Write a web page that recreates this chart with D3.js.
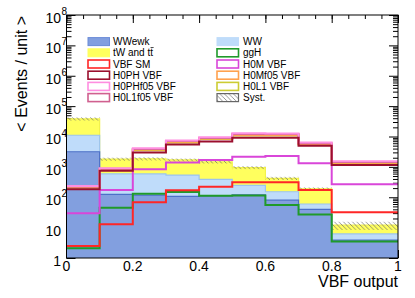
<!DOCTYPE html>
<html>
<head>
<meta charset="utf-8">
<script src="https://cdn.jsdelivr.net/npm/d3@7"></script>
<style>
  body { margin: 0; background: #fff; }
  svg { display: block; }
  text { font-family: "Liberation Sans", Arial, Helvetica, sans-serif; fill: #000; }
</style>
</head>
<body>
<div id="chart"></div>
<script>
// bin edges of the VBF output histogram
const edges = [0, 0.1, 0.2, 0.3, 0.4, 0.5, 0.6, 0.7, 0.8, 1.0];

// stacked backgrounds (per bin)
const wwewk = [3150, 125, 118, 107, 110, 120, 80, 40, 3.9];
const ww    = [7850, 465, 470, 430, 280, 125, 72, 20, 2.3];
const toptt = [27000, 1210, 1260, 1160, 1060, 705, 268, 130, 5.8];
const syst  = [0.12, 0.12, 0.12, 0.11, 0.11, 0.11, 0.12, 0.11, 0.3];

// signal / other histograms drawn as lines
const vbfSM   = [2.5, 13, 68, 170, 220, 310, 310, 174, 32];
const ggH     = [2.1, 45, 130, 148, 112, 115, 56, 27, 3.5];
const h0m     = [30, 174, 830, 1400, 1700, 2150, 2300, 1310, 268];
const h0l1    = [205, 810, 3500, 6400, 8200, 10800, 10800, 5500, 1320];
const h0mf05  = [215, 840, 3700, 6700, 8600, 11300, 11300, 5700, 1380];
const h0l1f05 = [225, 870, 3900, 7100, 9000, 12000, 12000, 6000, 1450];
const h0phf05 = [235, 900, 4100, 7400, 9400, 12700, 12500, 6300, 1520];
const h0ph    = [182, 745, 3000, 5500, 6900, 9100, 9100, 5000, 1150];

const xTicks = [0, 0.2, 0.4, 0.6, 0.8, 1];
const xTickLabels = ["0", "0.2", "0.4", "0.6", "0.8", "1"];
const yDecades = [0, 1, 2, 3, 4, 5, 6, 7, 8];

const width = 415, height = 298;
const plot = {left: 66.5, right: 398, top: 15, bottom: 258};

const x = d3.scaleLinear().domain([0, 1]).range([plot.left, plot.right]);
const y = d3.scaleLog().domain([1, 1e8]).range([plot.bottom, plot.top]);

const svg = d3.select('#chart').append('svg')
  .attr('width', width).attr('height', height);

const defs = svg.append('defs');
defs.append('clipPath').attr('id', 'clip')
  .append('rect')
  .attr('x', plot.left).attr('y', plot.top)
  .attr('width', plot.right - plot.left).attr('height', plot.bottom - plot.top);

defs.append('pattern')
  .attr('id', 'hatch')
  .attr('patternUnits', 'userSpaceOnUse')
  .attr('width', 4.5).attr('height', 4.5)
  .append('path')
  .attr('d', 'M-1,-1L5.5,5.5M3.5,-1L5.5,1M-1,3.5L1,5.5')
  .attr('stroke', '#6a6a6a').attr('stroke-width', 0.7);

// ---------- axis ticks (drawn under the histograms) ----------
const minorY = [];
yDecades.slice(0, -1).forEach(d => {
  for (let k = 2; k <= 9; k++) minorY.push(k * Math.pow(10, d));
});
const majorY = yDecades.map(d => Math.pow(10, d));
const minorX = d3.range(0, 1.0001, 0.05);

const axes = svg.append('g').attr('class', 'axes');

function tickAxis(axis, translate, values, size) {
  axes.append('g')
    .attr('transform', translate)
    .call(axis.tickValues(values).tickSize(size).tickFormat(''))
    .call(g => g.select('.domain').remove())
    .call(g => g.selectAll('line').attr('stroke', '#000').attr('stroke-width', 1));
}
tickAxis(d3.axisLeft(y), `translate(${plot.left},0)`, majorY, -9);
tickAxis(d3.axisLeft(y), `translate(${plot.left},0)`, minorY, -5);
tickAxis(d3.axisRight(y), `translate(${plot.right},0)`, majorY, -9);
tickAxis(d3.axisRight(y), `translate(${plot.right},0)`, minorY, -5);
tickAxis(d3.axisTop(x), `translate(0,${plot.top})`, xTicks, -8);
tickAxis(d3.axisTop(x), `translate(0,${plot.top})`, minorX, -4);
tickAxis(d3.axisBottom(x), `translate(0,${plot.bottom})`, xTicks, -8);
tickAxis(d3.axisBottom(x), `translate(0,${plot.bottom})`, minorX, -4);

// ---------- histograms ----------
function stepPoints(vals) {
  const pts = [];
  vals.forEach((v, i) => {
    pts.push([edges[i], v]);
    pts.push([edges[i + 1], v]);
  });
  return pts;
}

const area = d3.area()
  .x(d => x(d[0]))
  .y0(y(1))
  .y1(d => y(d[1]));

const line = d3.line()
  .x(d => x(d[0]))
  .y(d => y(d[1]));

const hist = svg.append('g').attr('clip-path', 'url(#clip)');

const lvl1 = wwewk;
const lvl2 = wwewk.map((v, i) => v + ww[i]);
const lvl3 = lvl2.map((v, i) => v + toptt[i]);

const stack = [
  {vals: lvl3, fill: '#ffff5e', stroke: '#f2f24a'},
  {vals: lvl2, fill: '#bfdcfa', stroke: '#9cc4ee'},
  {vals: lvl1, fill: '#829fdf', stroke: '#4c70c8'}
];
stack.forEach(s => {
  hist.append('path').attr('d', area(stepPoints(s.vals))).attr('fill', s.fill);
  hist.append('path').attr('d', line(stepPoints(s.vals)))
    .attr('fill', 'none').attr('stroke', s.stroke).attr('stroke-width', 1.2);
});

// systematic band
hist.selectAll('rect.syst')
  .data(lvl3)
  .join('rect')
  .attr('class', 'syst')
  .attr('x', (d, i) => x(edges[i]))
  .attr('width', (d, i) => x(edges[i + 1]) - x(edges[i]))
  .attr('y', (d, i) => y(d * (1 + syst[i])))
  .attr('height', (d, i) => y(d * (1 - syst[i])) - y(d * (1 + syst[i])))
  .attr('fill', 'url(#hatch)');

const lines = [
  {vals: ggH, color: '#1f9a2a'},
  {vals: h0m, color: '#d946d9'},
  {vals: vbfSM, color: '#ff2626'},
  {vals: h0l1, color: '#cccc33'},
  {vals: h0mf05, color: '#ffa24f'},
  {vals: h0l1f05, color: '#d0608f'},
  {vals: h0phf05, color: '#ff8ee0'},
  {vals: h0ph, color: '#9b0f2e'}
];
lines.forEach(l => {
  hist.append('path').attr('d', line(stepPoints(l.vals)))
    .attr('fill', 'none').attr('stroke', l.color).attr('stroke-width', 2);
});

// frame
svg.append('rect')
  .attr('x', plot.left).attr('y', plot.top)
  .attr('width', plot.right - plot.left).attr('height', plot.bottom - plot.top)
  .attr('fill', 'none').attr('stroke', '#000').attr('stroke-width', 1);

// ---------- tick labels ----------
svg.append('g').selectAll('text')
  .data(xTicks)
  .join('text')
  .attr('x', d => x(d))
  .attr('y', 271)
  .attr('text-anchor', 'middle')
  .attr('font-size', 14)
  .text((d, i) => xTickLabels[i]);

const yLab = svg.append('g').selectAll('g')
  .data(yDecades)
  .join('g')
  .attr('transform', d => `translate(61,${y(Math.pow(10, d)) + 3})`);
yLab.append('text')
  .attr('text-anchor', 'end')
  .attr('dy', '0.35em')
  .attr('font-size', 14)
  .text(d => d === 0 ? '1' : '10');
yLab.filter(d => d > 1).append('text')
  .attr('x', 0.5)
  .attr('y', -3)
  .attr('font-size', 10)
  .text(d => d);

// axis titles
svg.append('text')
  .attr('transform', `translate(27,16) rotate(-90)`)
  .attr('text-anchor', 'end')
  .attr('font-size', 16)
  .text('< Events / unit >');

svg.append('text')
  .attr('x', 398).attr('y', 287)
  .attr('text-anchor', 'end')
  .attr('font-size', 16)
  .text('VBF output');

// ---------- legend ----------
const legendCols = [
  {boxX: 87, textX: 113, entries: [
    {name: 'WWewk', fill: '#829fdf', stroke: '#6a8bd8'},
    {name: 'tW and t', bar: 't', fill: '#ffff5e', stroke: '#ffff5e'},
    {name: 'VBF SM', stroke: '#ff2626'},
    {name: 'H0PH VBF', stroke: '#9b0f2e'},
    {name: 'H0PHf05 VBF', stroke: '#ff8ee0'},
    {name: 'H0L1f05 VBF', stroke: '#d0608f'}
  ]},
  {boxX: 216, textX: 243, entries: [
    {name: 'WW', fill: '#bfdcfa', stroke: '#bfdcfa'},
    {name: 'ggH', stroke: '#1f9a2a'},
    {name: 'H0M VBF', stroke: '#d946d9'},
    {name: 'H0Mf05 VBF', stroke: '#ffa24f'},
    {name: 'H0L1 VBF', stroke: '#cccc33'},
    {name: 'Syst.', fill: 'url(#hatch)', stroke: '#666', thin: true}
  ]}
];
const rowY = [41.6, 52.8, 64, 75.2, 86.4, 97.6];

const legend = svg.append('g');
legendCols.forEach(col => {
  col.entries.forEach((e, i) => {
    const cy = rowY[i];
    legend.append('rect')
      .attr('x', col.boxX + 1).attr('y', cy - 4)
      .attr('width', 21.5).attr('height', 8)
      .attr('fill', e.fill || '#fff')
      .attr('stroke', e.stroke)
      .attr('stroke-width', e.fill && !e.thin ? 1 : (e.thin ? 1.2 : 1.6));
    const t = legend.append('text')
      .attr('x', col.textX).attr('y', cy + 3.6)
      .attr('font-size', 10)
      .text(e.name);
    if (e.bar) {
      const len = t.node().getComputedTextLength();
      const t2 = legend.append('text')
        .attr('x', col.textX + len).attr('y', cy + 3.6)
        .attr('font-size', 10)
        .text(e.bar);
      const w = t2.node().getComputedTextLength();
      legend.append('line')
        .attr('x1', col.textX + len + 0.3).attr('x2', col.textX + len + w + 0.6)
        .attr('y1', cy - 5.3).attr('y2', cy - 5.3)
        .attr('stroke', '#000').attr('stroke-width', 0.7);
    }
  });
});
</script>
</body>
</html>
